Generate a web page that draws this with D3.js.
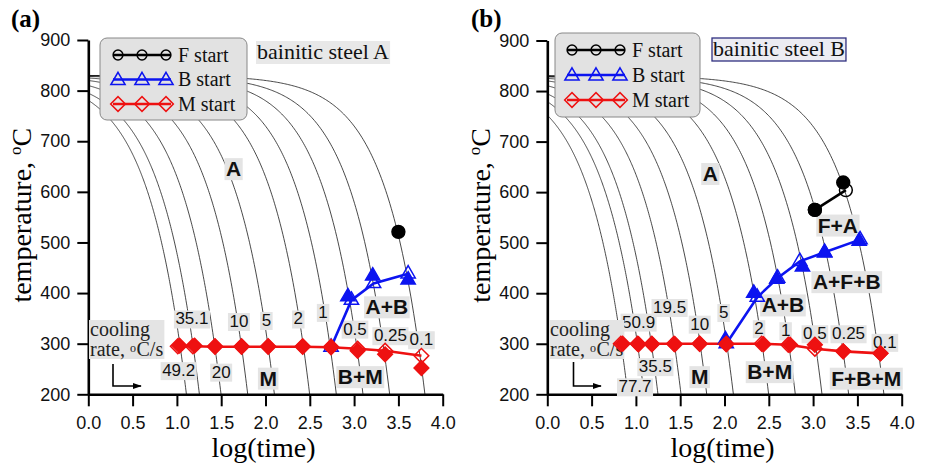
<!DOCTYPE html>
<html><head><meta charset="utf-8">
<script src="https://cdn.jsdelivr.net/npm/d3@7"></script>
<style>body{margin:0;background:#fff}</style>
</head><body><svg id="c" width="926" height="465"></svg>
<script>
// ---------- data ----------
const xTicks = [0, 0.5, 1, 1.5, 2, 2.5, 3, 3.5, 4];
const yTicks = [200, 300, 400, 500, 600, 700, 800, 900];
const startTemp = 830;               // austenitizing start of every cooling curve (°C)
const ratesA = [49.2, 35.1, 20, 10, 5, 2, 1, 0.5, 0.25, 0.1];
const ratesB = [77.7, 50.9, 35.5, 19.5, 10, 5, 2, 1, 0.5, 0.25, 0.1];

// panel (a) – bainitic steel A
const aMsLineX = [1.01, 1.18, 1.43, 1.73, 2.03, 2.42, 2.74, 3.04, 3.35, 3.76];
const aMsLineT = [295, 295, 294, 294, 294, 294, 293, 290, 286, 276];
const aMsExpX  = [1.03, 1.20, 1.43, 1.73, 2.03, 2.42, 2.74, 3.04, 3.35, 3.76];
const aMsExpT  = [296, 296, 295, 295, 295, 295, 294, 286, 279, 252];
const aBsLineX = [2.74, 2.97, 3.22, 3.61];
const aBsLineT = [293, 386, 419, 438];
const aBsExpX  = [2.93, 3.21, 3.61];
const aBsExpT  = [393, 434, 426];
const aFsLineX = [];
const aFsLineT = [];
const aFsExpX  = [3.50];
const aFsExpT  = [521];
const aRateLabels = ["49.2", "35.1", "20", "10", "5", "2", "1", "0.5", "0.25", "0.1"];

// panel (b) – bainitic steel B
const bMsLineX = [0.83, 1.02, 1.18, 1.43, 1.72, 2.02, 2.42, 2.72, 3.02, 3.34, 3.76];
const bMsLineT = [300, 300, 300, 300, 300, 300, 300, 298, 290, 285, 281];
const bMsExpX  = [0.85, 1.03, 1.18, 1.44, 1.72, 2.02, 2.44, 2.74, 3.02, 3.34, 3.76];
const bMsExpT  = [300, 299, 299, 299, 300, 299, 299, 298, 298, 285, 281];
const bBsLineX = [2.02, 2.37, 2.60, 2.85, 3.13, 3.53];
const bBsLineT = [300, 392, 430, 463, 481, 506];
const bBsExpX  = [2.01, 2.33, 2.59, 2.88, 3.13, 3.52];
const bBsExpT  = [308, 400, 428, 452, 480, 503];
const bFsLineX = [3.02, 3.37];
const bFsLineT = [565, 604];
const bFsExpX  = [3.02, 3.34];
const bFsExpT  = [565, 619];
const bRateLabels = ["77.7", "50.9", "35.5", "19.5", "10", "5", "2", "1", "0.5", "0.25", "0.1"];

const legendNames = ["F start", "B start", "M start"];

// ---------- drawing ----------
const svg = d3.select("#c");
const SANS = "'Liberation Sans', Arial, sans-serif";
const SERIF = "'Liberation Serif', 'Times New Roman', serif";
const RED = "#ee1111", BLUE = "#0c14f0", BLACK = "#000";
const BG = "#e4e4e4";

svg.append("defs").append("marker")
  .attr("id", "arr").attr("viewBox", "0 0 10 10").attr("refX", 9).attr("refY", 5)
  .attr("markerWidth", 9).attr("markerHeight", 9).attr("markerUnits", "userSpaceOnUse")
  .attr("orient", "auto")
  .append("path").attr("d", "M0,1.5L10,5L0,8.5Z").attr("fill", "#000");

const sym = {
  circle: d3.symbol().type(d3.symbolCircle).size(130),
  tri: d3.symbol().type(d3.symbolTriangle).size(88),
  dia: d3.symbol().type(d3.symbolSquare).size(108)
};

function marker(g, kind, px, py, color, filled) {
  return g.append("path").attr("d", sym[kind]())
    .attr("transform", `translate(${px},${py})` + (kind === "dia" ? " rotate(45)" : ""))
    .attr("stroke", color).attr("stroke-width", 1.5)
    .attr("fill", filled ? color : "none");
}

function label(g, txt, px, py, opts) {
  const t = g.append("text").attr("x", px).attr("y", py).attr("dy", "0.36em")
    .attr("text-anchor", "middle")
    .attr("font-family", opts.font || SANS)
    .attr("font-size", opts.size || 17)
    .attr("font-weight", opts.bold ? "bold" : "normal")
    .attr("fill", "#111").text(txt);
  const b = t.node().getBBox();
  g.insert("rect", () => t.node())
    .attr("x", b.x - 1.5).attr("y", b.y + 1).attr("width", b.width + 3).attr("height", b.height - 1)
    .attr("fill", BG);
}

function panel(cfg) {
  const g = svg.append("g");
  const x = d3.scaleLinear().domain([0, 4]).range([cfg.x0, cfg.x1]);
  const y = d3.scaleLinear().domain([200, 900]).range([cfg.yb, cfg.yt]);
  const line = d3.line().x(d => x(d[0])).y(d => y(d[1]));

  // cooling curves (constant cooling rate from startTemp)
  const gc = g.append("g");
  cfg.rates.forEach(r => {
    const xe = Math.log10((startTemp - 200) / r);
    const pts = d3.range(0, 241).map(i => {
      const lx = xe * i / 240;
      return [lx, startTemp - r * Math.pow(10, lx)];
    });
    gc.append("path").attr("d", line(pts)).attr("fill", "none")
      .attr("stroke", "#1a1a1a").attr("stroke-width", 0.8);
  });

  // axes
  const ay = g.append("g").attr("transform", `translate(${cfg.x0},0)`)
    .call(d3.axisLeft(y).tickValues(yTicks).tickSize(11).tickSizeOuter(0).tickPadding(7));
  const ax = g.append("g").attr("transform", `translate(0,${cfg.yb})`)
    .call(d3.axisBottom(x).tickValues(xTicks).tickSize(12).tickSizeOuter(0).tickPadding(10)
      .tickFormat(d3.format(".1f")));
  [ay, ax].forEach(a => {
    a.select(".domain").attr("stroke", "#000").attr("stroke-width", 2.6);
    a.selectAll(".tick line").attr("stroke", "#000").attr("stroke-width", 2);
    a.selectAll(".tick text").attr("font-family", SANS).attr("font-size", 18).attr("fill", "#111");
  });

  // axis titles
  g.append("text").attr("x", (cfg.x0 + cfg.x1) / 2 - 2).attr("y", cfg.yb + 63)
    .attr("text-anchor", "middle").attr("font-family", SERIF).attr("font-size", 28)
    .text("log(time)");
  const yt = g.append("text").attr("transform", `translate(${cfg.x0 - 57},${(cfg.yb + cfg.yt) / 2 - 2}) rotate(-90)`)
    .attr("text-anchor", "middle").attr("font-family", SERIF).attr("font-size", 28);
  yt.append("tspan").text("temperature, ");
  yt.append("tspan").attr("font-size", 17).attr("dy", -10).text("o");
  yt.append("tspan").attr("dy", 10).text("C");

  // panel letter
  g.append("text").attr("x", cfg.letterX).attr("y", 27).attr("font-family", SERIF)
    .attr("font-size", 25).attr("font-weight", "bold").text(cfg.letter);

  // title box
  const tt = g.append("text").attr("x", cfg.titleX).attr("y", cfg.titleY)
    .attr("font-family", SERIF).attr("font-size", 22).attr("fill", "#111").text(cfg.title);
  const tb = tt.node().getBBox();
  g.insert("rect", () => tt.node()).attr("x", tb.x - 1).attr("y", tb.y + 2)
    .attr("width", tb.width + 2).attr("height", tb.height - 2)
    .attr("fill", cfg.titleBox ? "#ececf2" : "#e8e8e8")
    .attr("stroke", cfg.titleBox ? "#303080" : "none").attr("stroke-width", 1.3);

  // region and rate labels
  cfg.regions.forEach(d => label(g, d.t, x(d.x), y(d.y), {bold: true, size: 21}));
  cfg.rateLabels.forEach((t, i) => label(g, t, x(cfg.ratePos[i][0]), y(cfg.ratePos[i][1]), {size: 17}));

  // cooling rate caption + arrow
  const cg = g.append("g");
  const bgRect = cg.append("rect").attr("fill", BG);
  cg.append("text").attr("x", cfg.coolX).attr("y", cfg.coolY)
    .attr("font-family", SERIF).attr("font-size", 20).attr("fill", "#222").text("cooling");
  const c2 = cg.append("text").attr("x", cfg.coolX).attr("y", cfg.coolY + 20)
    .attr("font-family", SERIF).attr("font-size", 20).attr("fill", "#222").text("rate,");
  const w2 = c2.node().getComputedTextLength() + 5;
  cg.append("text").attr("x", cfg.coolX + w2).attr("y", cfg.coolY + 15.5)
    .attr("font-family", SERIF).attr("font-size", 12).attr("fill", "#222").text("o");
  cg.append("text").attr("x", cfg.coolX + w2 + 6.5).attr("y", cfg.coolY + 20)
    .attr("font-family", SERIF).attr("font-size", 20).attr("fill", "#222").text("C/s");
  const cb = cg.node().getBBox();
  bgRect.attr("x", cb.x - 1).attr("y", cb.y + 2).attr("width", cb.width + 2).attr("height", cb.height - 3);
  g.append("path").attr("d", `M${cfg.arrow[0]},${cfg.arrow[1]}V${cfg.arrow[2]}H${cfg.arrow[3]}`)
    .attr("fill", "none").attr("stroke", "#000").attr("stroke-width", 1.6)
    .attr("marker-end", "url(#arr)");

  // legend
  const L = cfg.legend;
  const lg = g.append("g");
  lg.append("rect").attr("x", L.x).attr("y", L.y).attr("width", L.w).attr("height", L.h)
    .attr("rx", 7).attr("fill", "#e2e2e2").attr("stroke", "#888").attr("stroke-width", 1);
  const lk = [["circle", BLACK], ["tri", BLUE], ["dia", RED]];
  legendNames.forEach((nm, i) => {
    const yy = L.y + L.row0 + i * L.dy;
    lg.append("line").attr("x1", L.lx0).attr("x2", L.lx1).attr("y1", yy).attr("y2", yy)
      .attr("stroke", lk[i][1]).attr("stroke-width", 2.5);
    [0, 0.5, 1].forEach(f => {
      const mx = L.lx0 + 5 + f * (L.lx1 - L.lx0 - 10);
      const m = marker(lg, lk[i][0], mx, yy + (lk[i][0] === "tri" ? 1 : 0), lk[i][1], false);
      if (lk[i][0] === "circle") m.attr("d", d3.symbol().type(d3.symbolCircle).size(75)());
    });
    lg.append("text").attr("x", L.tx).attr("y", yy).attr("dy", "0.33em")
      .attr("font-family", SERIF).attr("font-size", 20).attr("fill", "#111").text(nm);
  });

  // data series
  const series = [
    {lx: cfg.FsLineX, lt: cfg.FsLineT, ex: cfg.FsExpX, et: cfg.FsExpT, c: BLACK, k: "circle"},
    {lx: cfg.BsLineX, lt: cfg.BsLineT, ex: cfg.BsExpX, et: cfg.BsExpT, c: BLUE, k: "tri"},
    {lx: cfg.MsLineX, lt: cfg.MsLineT, ex: cfg.MsExpX, et: cfg.MsExpT, c: RED, k: "dia"}
  ];
  series.forEach(s => {
    const pts = s.lx.map((v, i) => [v, s.lt[i]]);
    if (pts.length) g.append("path").attr("d", line(pts)).attr("fill", "none")
      .attr("stroke", s.c).attr("stroke-width", 2.6);
  });
  series.forEach(s => {
    s.lx.forEach((v, i) => marker(g, s.k, x(v), y(s.lt[i]), s.c, false));
    s.ex.forEach((v, i) => marker(g, s.k, x(v), y(s.et[i]), s.c, true));
  });
}

panel({
  letter: "(a)", letterX: 11,
  x0: 88.3, x1: 442.7, yb: 394.3, yt: 40,
  rates: ratesA,
  title: "bainitic steel A", titleX: 257, titleY: 59, titleBox: false,
  regions: [
    {t: "A", x: 1.64, y: 646}, {t: "A+B", x: 3.37, y: 373},
    {t: "B+M", x: 3.07, y: 235}, {t: "M", x: 2.03, y: 232}
  ],
  rateLabels: aRateLabels,
  ratePos: [[1.02, 248], [1.17, 350], [1.50, 245], [1.70, 345], [2.01, 347], [2.37, 350],
            [2.65, 363], [3.01, 330], [3.41, 317], [3.76, 309]],
  coolX: 90, coolY: 336, arrow: [113, 364, 386, 141],
  legend: {x: 100, y: 38, w: 147, h: 82, row0: 17, dy: 24.5, lx0: 113, lx1: 171, tx: 178},
  FsLineX: aFsLineX, FsLineT: aFsLineT, FsExpX: aFsExpX, FsExpT: aFsExpT,
  BsLineX: aBsLineX, BsLineT: aBsLineT, BsExpX: aBsExpX, BsExpT: aBsExpT,
  MsLineX: aMsLineX, MsLineT: aMsLineT, MsExpX: aMsExpX, MsExpT: aMsExpT
});

panel({
  letter: "(b)", letterX: 471,
  x0: 547.3, x1: 901.7, yb: 394.3, yt: 40.5,
  rates: ratesB,
  title: "bainitic steel B", titleX: 713, titleY: 56, titleBox: true,
  regions: [
    {t: "A", x: 1.84, y: 637}, {t: "F+A", x: 3.28, y: 535}, {t: "A+F+B", x: 3.38, y: 423},
    {t: "A+B", x: 2.66, y: 377}, {t: "B+M", x: 2.51, y: 245}, {t: "M", x: 1.72, y: 235},
    {t: "F+B+M", x: 3.60, y: 232}
  ],
  rateLabels: bRateLabels,
  ratePos: [[0.99, 216], [1.03, 344], [1.22, 256], [1.38, 373], [1.72, 340], [1.99, 363],
            [2.39, 331], [2.69, 327], [3.02, 321], [3.40, 321], [3.81, 304]],
  coolX: 550, coolY: 336, arrow: [573.5, 362, 386, 601],
  legend: {x: 555, y: 33, w: 145, h: 84, row0: 17, dy: 25, lx0: 567, lx1: 625, tx: 632},
  FsLineX: bFsLineX, FsLineT: bFsLineT, FsExpX: bFsExpX, FsExpT: bFsExpT,
  BsLineX: bBsLineX, BsLineT: bBsLineT, BsExpX: bBsExpX, BsExpT: bBsExpT,
  MsLineX: bMsLineX, MsLineT: bMsLineT, MsExpX: bMsExpX, MsExpT: bMsExpT
});
</script></body></html>
